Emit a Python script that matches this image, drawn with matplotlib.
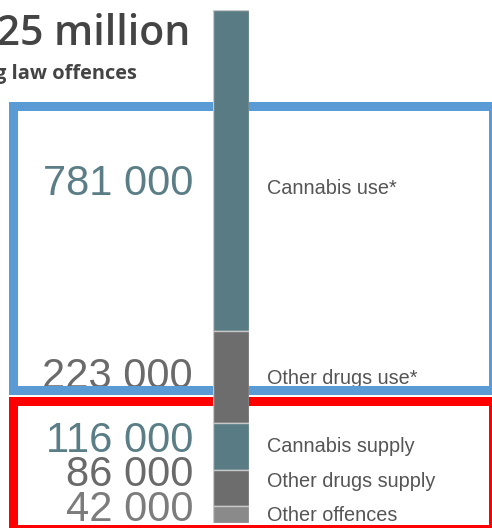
import matplotlib
matplotlib.use("Agg")
import matplotlib.pyplot as plt
from matplotlib.patches import Rectangle

# ---- data ----
categories = ["Cannabis use*", "Other drugs use*", "Cannabis supply",
              "Other drugs supply", "Other offences"]
values = [781000, 223000, 116000, 86000, 42000]
value_labels = ["781 000", "223 000", "116 000", "86 000", "42 000"]
title_text = "1.25 million"
subtitle_text = "drug law offences"

# ---- style ----
seg_colors = ["#587b84", "#6d6d6d", "#587b84", "#6d6d6d", "#8a8a8a"]
num_colors = ["#5a7d86", "#6a6a6a", "#5a7d86", "#6a6a6a", "#7c7c7c"]
num_sizes = [30, 30, 30, 30, 30]
label_color = "#555555"
FONT = "Liberation Sans"
TFONT = "Open Sans"

W, H = 492, 528
fig = plt.figure(figsize=(W / 100, H / 100), dpi=100)
fig.patch.set_facecolor("white")

# overlay axes in pixel coordinates for text and boxes
ov = fig.add_axes([0, 0, 1, 1])
ov.set_xlim(0, W)
ov.set_ylim(H, 0)
ov.axis("off")

# bar axes
total = sum(values)
bar_top_px, bar_bot_px = 10, 523
bar_left_px, bar_w_px = 213, 36
bx = fig.add_axes([bar_left_px / W, (H - bar_bot_px) / H, bar_w_px / W,
                   (bar_bot_px - bar_top_px) / H])
bx.set_xlim(0, 1)
bx.set_ylim(total, 0)
bx.axis("off")
bottom = 0
for v, c in zip(values, seg_colors):
    bx.bar(0.5, v, width=1.0, bottom=bottom, color=c,
           edgecolor="#c8c8c8", linewidth=1.0)
    bottom += v

# titles
ov.text(190, 45, title_text, ha="right", va="baseline", fontsize=29.5,
        color="#444444", family=TFONT, fontweight="semibold")
ov.text(137, 79, subtitle_text, ha="right", va="baseline", fontsize=14.4,
        color="#444444", family=TFONT, fontweight="bold")

# numbers and labels
baselines = [195, 388, 452, 486, 521]
label_baselines = [194, 384, 452, 487, 521]
for lab, vl, nc, ns, yb, lb in zip(categories, value_labels, num_colors,
                                   num_sizes, baselines, label_baselines):
    ov.text(193, yb, vl, ha="right", va="baseline", fontsize=ns,
            color=nc, family=FONT, zorder=2)
    ov.text(267, lb, lab, ha="left", va="baseline", fontsize=14.3,
            color=label_color, family=FONT, zorder=2)

# highlight boxes
lw = 9 * 72 / 100
ov.add_patch(Rectangle((12.5, 105.5), 480, 284, fill=False,
                       edgecolor="#5b9bd5", linewidth=lw, zorder=5,
                       joinstyle="miter"))
ov.add_patch(Rectangle((12.5, 400.5), 480, 128, fill=False,
                       edgecolor="#ff0000", linewidth=lw, zorder=5,
                       joinstyle="miter"))

fig.savefig("out.png", dpi=100, facecolor="white")
